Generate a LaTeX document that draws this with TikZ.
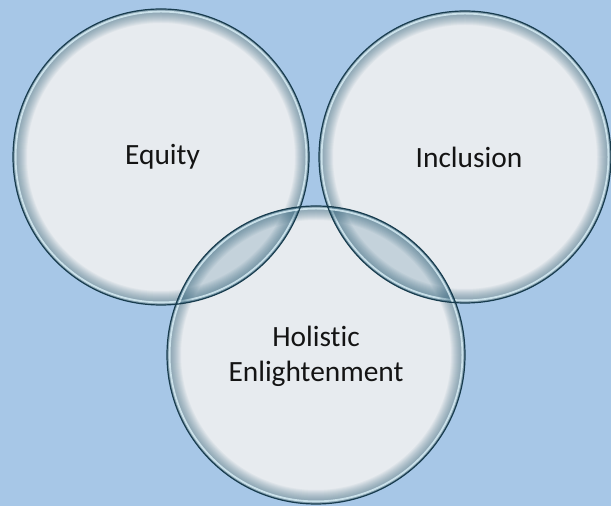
\documentclass[tikz,border=0pt]{standalone}
\usepackage{fontspec}
\setmainfont{Carlito}[Ligatures=NoCommon]
\definecolor{bg}{RGB}{167,199,231}
\definecolor{bfill}{RGB}{231,235,239}
\definecolor{brim}{RGB}{52,100,124}
\definecolor{bhi}{RGB}{214,236,244}
\definecolor{bedge}{RGB}{24,60,78}
\definecolor{lensc}{RGB}{196,210,219}
\definecolor{txt}{RGB}{20,20,20}
\tikzset{
  bubble/.style={circle, inner sep=0pt, fill=bfill},
  label text/.style={text=txt, align=center, font=\fontsize{29.5}{35}\selectfont},
  rimline/.style={draw=bedge, line width=1.2bp},
  hiline/.style={draw=bhi, line width=1.8bp, opacity=0.85},
}
% rim shading of one circle (center, radius), drawn clipped by the caller
\newcommand\myrim[2]{%
  \foreach \i in {1,...,14} {
    \draw[brim, opacity=0.055, line width=2*\i bp] (#1) circle (#2);
  }
  \draw[hiline] (#1) circle ({#2-2.6});
}
\begin{document}
\begin{tikzpicture}[x=1bp,y=1bp]
\useasboundingbox (0,0) rectangle (611,506);
\fill[bg] (0,0) rectangle (611,506);
\node[bubble, minimum size=296bp] (eq) at (161,349) {};
\node[bubble, minimum size=292bp] (in) at (465,349) {};
\node[bubble, minimum size=298bp] (ho) at (316,151) {};
% rims
\begin{scope}
  \clip (eq.center) circle (148);
  \myrim{eq.center}{148}
\end{scope}
\begin{scope}
  \clip (in.center) circle (146);
  \myrim{in.center}{146}
\end{scope}
\begin{scope}
  \clip (ho.center) circle (149);
  \fill[bfill] (ho.center) circle (149);
  \myrim{ho.center}{149}
\end{scope}
% lens: equity / holistic
\begin{scope}
  \clip (eq.center) circle (148);
  \clip (ho.center) circle (149);
  \fill[lensc] (0,0) rectangle (611,506);
  \myrim{eq.center}{148}
  \myrim{ho.center}{149}
\end{scope}
% lens: inclusion / holistic
\begin{scope}
  \clip (in.center) circle (146);
  \clip (ho.center) circle (149);
  \fill[lensc] (0,0) rectangle (611,506);
  \myrim{in.center}{146}
  \myrim{ho.center}{149}
\end{scope}
\draw[rimline] (eq.center) circle (148);
\draw[rimline] (in.center) circle (146);
\draw[rimline] (ho.center) circle (149);
\node[label text] (teq) at (162.5,349) {Equity};
\node[label text] (tin) at (469,349) {Inclusion};
\node[label text] (tho) at (316,150) {Holistic\\Enlightenment};
\end{tikzpicture}
\end{document}
